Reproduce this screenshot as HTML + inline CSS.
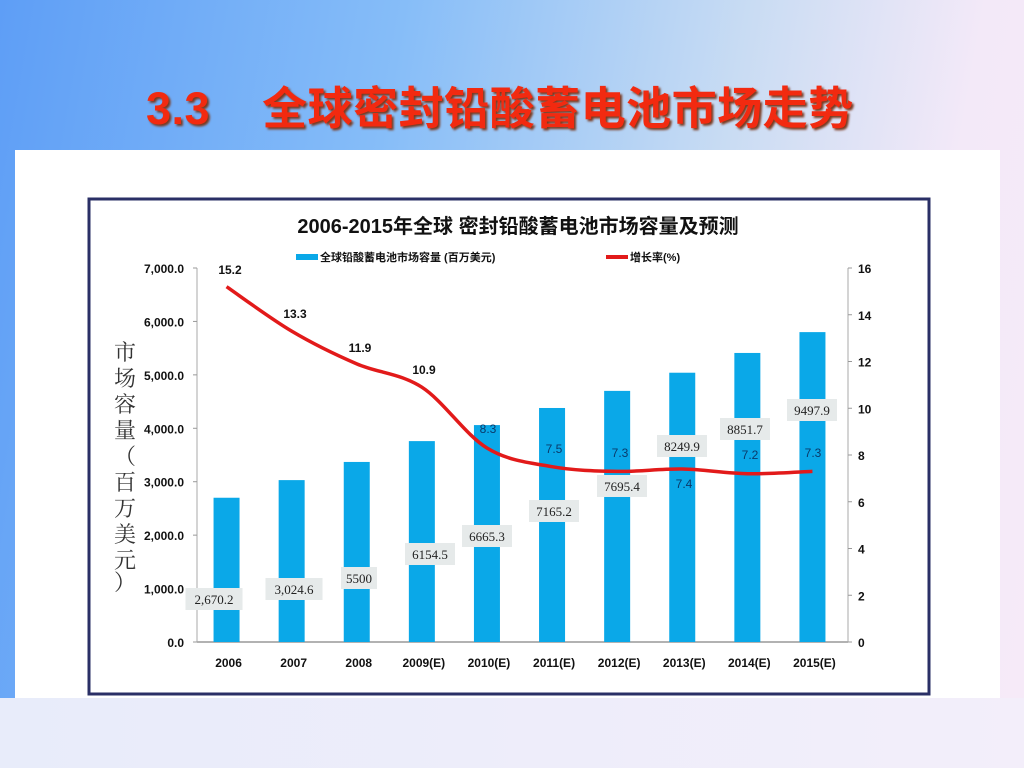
<!DOCTYPE html>
<html><head><meta charset="utf-8">
<style>
html,body{margin:0;padding:0;}
body{width:1024px;height:768px;overflow:hidden;position:relative;
background:linear-gradient(100deg,#5e9ef6 0%,#86bdf8 35%,#c9dcf3 65%,#f3e9f8 85%,#f6eaf8 100%);
font-family:"Liberation Sans","Noto Sans CJK SC",sans-serif;}
.bottom{position:absolute;left:0;top:698px;width:1024px;height:70px;background:linear-gradient(90deg,#e8ecfa,#f3eefa);}
.title{position:absolute;left:146px;top:83px;font-size:45px;font-weight:bold;color:#f22a10;letter-spacing:0.5px;
text-shadow:2px 2px 2px #7a3a20;white-space:nowrap;line-height:52px;}
.panel{position:absolute;left:15px;top:150px;width:985px;height:548px;background:#fff;}
svg{position:absolute;left:0;top:0;}
</style></head><body>
<div class="bottom"></div>
<div class="title">3.3&nbsp;&nbsp;&nbsp; 全球密封铅酸蓄电池市场走势</div>
<div class="panel"></div>
<svg width="1024" height="768">
<rect x="89" y="199" width="840" height="495" fill="none" stroke="#2a2f66" stroke-width="3"/>
<text x="518" y="233" text-anchor="middle" font-size="20" font-weight="bold" fill="#111">2006-2015年全球 密封铅酸蓄电池市场容量及预测</text>
<rect x="296" y="254" width="22" height="6" fill="#0aa8e8"/>
<text x="320" y="261" font-size="11" font-weight="bold" fill="#111">全球铅酸蓄电池市场容量 (百万美元)</text>
<rect x="606" y="255" width="22" height="4" fill="#e21a1a"/>
<text x="630" y="261" font-size="11" font-weight="bold" fill="#111">增长率(%)</text>
<text font-family="Liberation Serif,Noto Serif CJK SC,serif" font-size="22" fill="#333">
<tspan x="114" y="360">市</tspan><tspan x="114" y="386">场</tspan><tspan x="114" y="412">容</tspan><tspan x="114" y="438">量</tspan><tspan x="114" y="464">（</tspan><tspan x="114" y="490">百</tspan><tspan x="114" y="516">万</tspan><tspan x="114" y="542">美</tspan><tspan x="114" y="568">元</tspan><tspan x="114" y="590">）</tspan></text>
<g id="g"></g>
</svg>
<script>
const categories=["2006","2007","2008","2009(E)","2010(E)","2011(E)","2012(E)","2013(E)","2014(E)","2015(E)"];
const marketValues=[2700,3030,3370,3760,4060,4380,4700,5040,5410,5800];
const growthValues=[15.2,13.3,11.9,10.9,8.3,7.5,7.3,7.4,7.2,7.3];
const valueLabels=["2,670.2","3,024.6","5500","6154.5","6665.3","7165.2","7695.4","8249.9","8851.7","9497.9"];
const leftTicks=[0,1000,2000,3000,4000,5000,6000,7000];
const rightTicks=[0,2,4,6,8,10,12,14,16];
// annotation label positions (layout, not data)
const valLabelPos=[[214,599],[294,589],[359,578],[430,554],[487,536],[554,511],[622,486],[682,446],[745,429],[812,410]];
const growLabelPos=[[230,270],[295,314],[360,348],[424,370],[488,429],[554,449],[620,453],[684,484],[750,455],[813,453]];
const NS="http://www.w3.org/2000/svg",g=document.getElementById('g');
const x0=197,x1=848,yb=642,yt=268;
const yL=v=>yb-(v/7000)*(yb-yt), yR=v=>yb-(v/16)*(yb-yt);
const step=(x1-x0)/categories.length, xc=i=>x0+step*(i+0.5)-3;
function el(t,a){const e=document.createElementNS(NS,t);for(const k in a)e.setAttribute(k,a[k]);g.appendChild(e);return e;}
let e;
e=el('line',{x1:x0,y1:yb,x2:x1,y2:yb,stroke:'#999','stroke-width':1.5});


e=el('line',{x1:x0,y1:yt,x2:x0,y2:yb,stroke:'#aaa','stroke-width':1});


e=el('line',{x1:x1,y1:yt,x2:x1,y2:yb,stroke:'#aaa','stroke-width':1});


leftTicks.forEach(v=>{
 e=el('text',{x:184,y:yL(v)+5,'text-anchor':'end','font-size':12,'font-weight':'bold',fill:'#111'});
 e.textContent=v.toLocaleString('en-US',{minimumFractionDigits:1});
 
 
 el('line',{x1:x0-4,y1:yL(v),x2:x0,y2:yL(v),stroke:'#999'});
});
rightTicks.forEach(v=>{
 e=el('text',{x:858,y:yR(v)+5,'font-size':12,'font-weight':'bold',fill:'#111'});
 e.textContent=v;
 
 
 el('line',{x1:x1,y1:yR(v),x2:x1+4,y2:yR(v),stroke:'#999'});
});
categories.forEach((c,i)=>{
 e=el('rect',{x:xc(i)-13,y:yL(marketValues[i]),width:26,height:yb-yL(marketValues[i]),fill:'#0aa8e8'});
 
 
 e=el('text',{x:xc(i)+2,y:667,'text-anchor':'middle','font-size':12,'font-weight':'bold',fill:'#111'});
 e.textContent=c;
 
 
});
const pts=growthValues.map((v,i)=>[xc(i),yR(v)]);
let d='M'+pts[0][0]+','+pts[0][1];
for(let i=0;i<pts.length-1;i++){
 const p0=pts[Math.max(0,i-1)],p1=pts[i],p2=pts[i+1],p3=pts[Math.min(pts.length-1,i+2)],k=6;
 d+=` C${p1[0]+(p2[0]-p0[0])/k},${p1[1]+(p2[1]-p0[1])/k} ${p2[0]-(p3[0]-p1[0])/k},${p2[1]-(p3[1]-p1[1])/k} ${p2[0]},${p2[1]}`;
}
e=el('path',{d:d,fill:'none',stroke:'#e21a1a','stroke-width':3.5,'stroke-linejoin':'round'});


valueLabels.forEach((t,i)=>{
 const [x,y]=valLabelPos[i],w=t.length*7+8;
 e=el('rect',{x:x-w/2,y:y-11,width:w,height:22,fill:'#e6eaea'});
 
 
 e=el('text',{x:x,y:y+5,'text-anchor':'middle','font-size':13,'font-family':'Liberation Serif,serif',fill:'#222'});
 e.textContent=t;
 
 
});
growthValues.forEach((v,i)=>{
 const [x,y]=growLabelPos[i];
 e=el('text',{x:x,y:y+4,'text-anchor':'middle','font-size':12,'font-weight':i<4?'bold':'normal',fill:i<4?'#111':'#0a3a6a'});
 e.textContent=v.toFixed(1);
 
 
});
</script>
</body></html>
